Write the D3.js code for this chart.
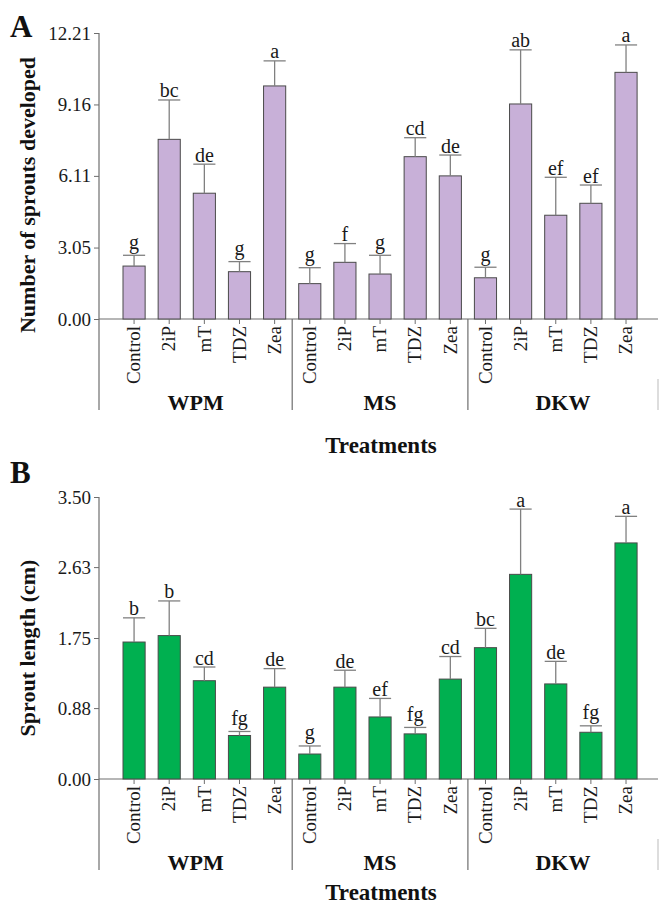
<!DOCTYPE html>
<html>
<head>
<meta charset="utf-8">
<script src="https://cdn.jsdelivr.net/npm/d3@7"></script>
<style>
  html, body { margin: 0; padding: 0; background: #fff; }
  svg { display: block; font-family: "Liberation Serif", "Times New Roman", serif; }
</style>
</head>
<body>
<svg id="chart" width="660" height="906"></svg>
<script>
// ---------------- data ----------------
const media = ["WPM", "MS", "DKW"];
const treatments = ["Control", "2iP", "mT", "TDZ", "Zea"];

const sproutMean = [2.26, 7.67, 5.37, 2.02, 9.95, 1.51, 2.42, 1.92, 6.93, 6.11, 1.76, 9.18, 4.43, 4.94, 10.53];
const sproutErr  = [0.46, 1.68, 1.24, 0.43, 1.07, 0.68, 0.80, 0.80, 0.81, 0.89, 0.45, 2.31, 1.62, 0.78, 1.17];
const sproutLetters = ["g", "bc", "de", "g", "a", "g", "f", "g", "cd", "de", "g", "ab", "ef", "ef", "a"];
const sproutTicks = [0, 3.05, 6.11, 9.16, 12.21];

const lengthMean = [1.70, 1.78, 1.22, 0.54, 1.14, 0.31, 1.14, 0.77, 0.56, 1.24, 1.63, 2.54, 1.18, 0.58, 2.93];
const lengthErr  = [0.30, 0.43, 0.17, 0.05, 0.23, 0.10, 0.21, 0.23, 0.08, 0.28, 0.24, 0.81, 0.28, 0.08, 0.33];
const lengthLetters = ["b", "b", "cd", "fg", "de", "g", "de", "ef", "fg", "cd", "bc", "a", "de", "fg", "a"];
const lengthTicks = [0, 0.88, 1.75, 2.63, 3.50];

// ---------------- layout ----------------
const svg = d3.select("#chart");
const axisColor = "#6e6e6e";
const serif = "'Liberation Serif', 'Times New Roman', serif";
const xLeft = 99, xRight = 658;

const keys = [];
media.forEach(m => treatments.forEach(t => keys.push(m + "|" + t)));

const x = d3.scaleBand()
  .domain(keys)
  .range([116.5, 643.6])
  .paddingInner(0.37)
  .paddingOuter(0.185);

function panel(opts) {
  const { top, bottom, max, ticks, mean, err, letters, fill, letter, letterY, ylabel, ylabelY, groupY, titleY } = opts;
  const g = svg.append("g");
  const y = d3.scaleLinear().domain([0, max]).range([bottom, top]);

  // y axis
  const yAxis = d3.axisLeft(y).tickValues(ticks).tickFormat(d3.format(".2f")).tickSize(5).tickPadding(3);
  const ya = g.append("g").attr("transform", `translate(${xLeft},0)`).call(yAxis)
    .attr("font-family", serif);
  ya.select(".domain").remove();
  ya.selectAll(".tick line").attr("stroke", axisColor);
  ya.selectAll(".tick text").attr("font-size", 19).attr("fill", "#1a1a1a");

  // left vertical line (y axis + group boundary)
  g.append("line").attr("x1", xLeft).attr("x2", xLeft).attr("y1", top).attr("y2", groupY)
    .attr("stroke", axisColor).attr("stroke-width", 1.2);

  // x axis line
  g.append("line").attr("x1", xLeft).attr("x2", xRight).attr("y1", bottom).attr("y2", bottom)
    .attr("stroke", axisColor).attr("stroke-width", 1.2);

  // group separators
  [1, 2].forEach(i => {
    const xs = (x(keys[i * 5 - 1]) + x.bandwidth() + x(keys[i * 5])) / 2;
    g.append("line").attr("x1", xs).attr("x2", xs).attr("y1", bottom).attr("y2", groupY)
      .attr("stroke", axisColor).attr("stroke-width", 1.2);
  });
  g.append("line").attr("x1", xRight).attr("x2", xRight).attr("y1", bottom + 60).attr("y2", groupY)
    .attr("stroke", "#bbbbbb").attr("stroke-width", 1);

  // bars
  const data = keys.map((k, i) => ({ k, t: k.split("|")[1], v: mean[i], e: err[i], l: letters[i] }));
  g.selectAll("rect.bar").data(data).join("rect")
    .attr("class", "bar")
    .attr("x", d => x(d.k))
    .attr("width", x.bandwidth())
    .attr("y", d => y(d.v))
    .attr("height", d => y(0) - y(d.v))
    .attr("fill", fill)
    .attr("stroke", "#4a4a4a")
    .attr("stroke-width", 1);

  // error bars
  const cx = d => x(d.k) + x.bandwidth() / 2;
  g.selectAll("line.err").data(data).join("line")
    .attr("class", "err")
    .attr("x1", cx).attr("x2", cx)
    .attr("y1", d => y(d.v)).attr("y2", d => y(d.v + d.e))
    .attr("stroke", "#808080").attr("stroke-width", 1.3);
  g.selectAll("line.cap").data(data).join("line")
    .attr("class", "cap")
    .attr("x1", d => x(d.k)).attr("x2", d => x(d.k) + x.bandwidth())
    .attr("y1", d => y(d.v + d.e)).attr("y2", d => y(d.v + d.e))
    .attr("stroke", "#808080").attr("stroke-width", 1.3);

  // significance letters
  g.selectAll("text.sig").data(data).join("text")
    .attr("class", "sig")
    .attr("x", cx)
    .attr("y", d => y(d.v + d.e) - (d.l.includes("g") ? 6.5 : 2.5))
    .attr("text-anchor", "middle")
    .attr("font-size", 20)
    .attr("fill", "#1a1a1a")
    .text(d => d.l);

  // x ticks
  g.selectAll("line.xt").data(data).join("line")
    .attr("class", "xt")
    .attr("x1", cx).attr("x2", cx)
    .attr("y1", bottom).attr("y2", bottom + 5)
    .attr("stroke", axisColor);

  // treatment labels (rotated)
  g.selectAll("text.tl").data(data).join("text")
    .attr("class", "tl")
    .attr("transform", d => `translate(${cx(d)},${bottom + 7}) rotate(-90)`)
    .attr("text-anchor", "end")
    .attr("dy", "0.33em")
    .attr("font-size", 19)
    .attr("fill", "#1a1a1a")
    .text(d => d.t);

  // media labels
  const bounds = [xLeft,
    (x(keys[4]) + x.bandwidth() + x(keys[5])) / 2,
    (x(keys[9]) + x.bandwidth() + x(keys[10])) / 2,
    xRight];
  media.forEach((m, i) => {
    g.append("text")
      .attr("x", (bounds[i] + bounds[i + 1]) / 2)
      .attr("y", groupY)
      .attr("text-anchor", "middle")
      .attr("font-size", 22)
      .attr("font-weight", "bold")
      .attr("fill", "#111")
      .text(m);
  });

  // x title
  g.append("text")
    .attr("x", 381).attr("y", titleY)
    .attr("text-anchor", "middle")
    .attr("font-size", 23).attr("font-weight", "bold").attr("fill", "#111")
    .text("Treatments");

  // y title
  g.append("text")
    .attr("transform", `translate(34.5,${ylabelY}) rotate(-90)`)
    .attr("text-anchor", "middle")
    .attr("font-size", 22).attr("font-weight", "bold").attr("fill", "#111")
    .text(ylabel);

  // panel letter
  g.append("text")
    .attr("x", 10).attr("y", letterY)
    .attr("font-size", 31).attr("font-weight", "bold").attr("fill", "#111")
    .text(letter);
}

panel({
  top: 33, bottom: 319, max: 12.21, ticks: sproutTicks,
  mean: sproutMean, err: sproutErr, letters: sproutLetters,
  fill: "#c8b0d8", letter: "A", letterY: 37,
  ylabel: "Number of sprouts developed", ylabelY: 195,
  groupY: 410, titleY: 453
});

panel({
  top: 497, bottom: 779, max: 3.5, ticks: lengthTicks,
  mean: lengthMean, err: lengthErr, letters: lengthLetters,
  fill: "#00b050", letter: "B", letterY: 483,
  ylabel: "Sprout length (cm)", ylabelY: 648,
  groupY: 870, titleY: 900
});
</script>
</body>
</html>
